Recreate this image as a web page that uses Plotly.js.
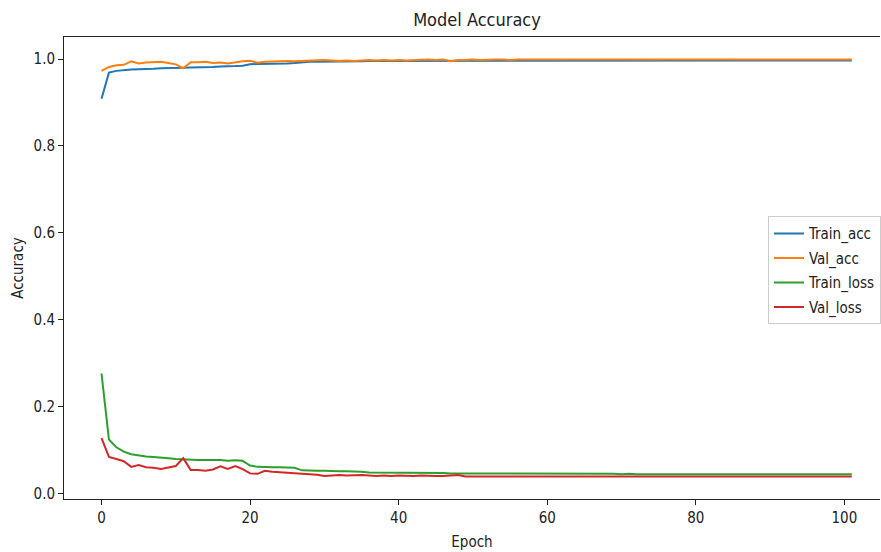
<!DOCTYPE html>
<html>
<head>
<meta charset="utf-8">
<script src="https://cdn.plot.ly/plotly-3.0.1.min.js"></script>
<style>
html, body { margin: 0; padding: 0; overflow: hidden; background: #fff; }
#chart { width: 881px; height: 552px; }
</style>
</head>
<body>
<div id="chart"></div>
<script>
const seriesNames = ["Train_acc", "Val_acc", "Train_loss", "Val_loss"];
const seriesColors = ["#1f77b4", "#ff7f0e", "#2ca02c", "#d62728"];

const trainAcc = [
  0.909, 0.969, 0.973, 0.975, 0.976, 0.977, 0.977, 0.978, 0.979, 0.979,
  0.980, 0.980, 0.981, 0.981, 0.982, 0.982, 0.983, 0.983, 0.984, 0.985,
  0.988, 0.989, 0.989, 0.990, 0.990, 0.990, 0.991, 0.993, 0.994, 0.994,
  0.994, 0.994, 0.994, 0.995, 0.995, 0.995, 0.996, 0.996, 0.996, 0.996,
  0.996, 0.996, 0.996, 0.996, 0.996, 0.996, 0.997, 0.997, 0.997, 0.997,
  0.997, 0.997, 0.997, 0.997, 0.997, 0.997, 0.997, 0.997, 0.997, 0.997,
  0.997, 0.997, 0.997, 0.997, 0.997, 0.997, 0.997, 0.997, 0.997, 0.997,
  0.997, 0.997, 0.997, 0.997, 0.997, 0.997, 0.997, 0.997, 0.997, 0.997,
  0.997, 0.997, 0.997, 0.997, 0.997, 0.997, 0.997, 0.997, 0.997, 0.997,
  0.997, 0.997, 0.997, 0.997, 0.997, 0.997, 0.997, 0.997, 0.997, 0.997,
  0.997, 0.997
];

const valAcc = [
  0.973, 0.982, 0.986, 0.987, 0.995, 0.990, 0.992, 0.993, 0.994, 0.991,
  0.988, 0.979, 0.993, 0.993, 0.994, 0.991, 0.992, 0.990, 0.993, 0.995,
  0.996, 0.992, 0.994, 0.995, 0.995, 0.996, 0.995, 0.996, 0.997, 0.997,
  0.998, 0.997, 0.996, 0.997, 0.996, 0.997, 0.998, 0.997, 0.998, 0.997,
  0.998, 0.997, 0.998, 0.998, 0.999, 0.998, 0.999, 0.995, 0.998, 0.998,
  0.999, 0.998, 0.999, 0.999, 0.999, 0.998, 0.999, 0.999, 0.999, 0.999,
  0.999, 0.999, 1.000, 0.999, 0.999, 0.999, 0.999, 0.999, 0.999, 1.000,
  0.999, 0.999, 0.999, 0.999, 1.000, 0.999, 0.999, 0.999, 0.999, 0.999,
  1.000, 0.999, 0.999, 0.999, 0.999, 0.999, 0.999, 1.000, 0.999, 0.999,
  0.999, 0.999, 0.999, 0.999, 0.999, 0.999, 0.999, 0.999, 0.999, 0.999,
  0.999, 0.999
];

const trainLoss = [
  0.276, 0.124, 0.106, 0.096, 0.090, 0.087, 0.085, 0.084, 0.083, 0.081,
  0.079, 0.078, 0.077, 0.077, 0.077, 0.077, 0.077, 0.075, 0.076, 0.075,
  0.064, 0.061, 0.060, 0.060, 0.060, 0.060, 0.059, 0.053, 0.052, 0.052,
  0.052, 0.051, 0.051, 0.051, 0.051, 0.050, 0.048, 0.048, 0.048, 0.048,
  0.048, 0.047, 0.047, 0.047, 0.047, 0.047, 0.047, 0.046, 0.046, 0.046,
  0.046, 0.046, 0.045, 0.045, 0.045, 0.045, 0.045, 0.045, 0.045, 0.045,
  0.045, 0.045, 0.045, 0.045, 0.045, 0.045, 0.045, 0.045, 0.045, 0.045,
  0.044, 0.045, 0.044, 0.044, 0.044, 0.044, 0.044, 0.044, 0.044, 0.044,
  0.044, 0.044, 0.044, 0.044, 0.044, 0.044, 0.044, 0.044, 0.044, 0.044,
  0.044, 0.044, 0.044, 0.044, 0.044, 0.044, 0.044, 0.044, 0.044, 0.044,
  0.044, 0.044
];

const valLoss = [
  0.127, 0.084, 0.079, 0.074, 0.061, 0.065, 0.060, 0.059, 0.056, 0.060,
  0.063, 0.081, 0.054, 0.054, 0.052, 0.055, 0.062, 0.056, 0.063, 0.056,
  0.046, 0.045, 0.052, 0.050, 0.049, 0.048, 0.046, 0.045, 0.044, 0.043,
  0.040, 0.041, 0.042, 0.041, 0.042, 0.042, 0.041, 0.040, 0.041, 0.040,
  0.041, 0.040, 0.040, 0.041, 0.040, 0.040, 0.040, 0.041, 0.042, 0.039,
  0.039, 0.040, 0.039, 0.039, 0.040, 0.039, 0.039, 0.039, 0.040, 0.039,
  0.039, 0.039, 0.039, 0.039, 0.039, 0.039, 0.039, 0.039, 0.039, 0.039,
  0.039, 0.039, 0.039, 0.039, 0.039, 0.039, 0.039, 0.039, 0.039, 0.039,
  0.039, 0.039, 0.039, 0.039, 0.039, 0.039, 0.039, 0.039, 0.039, 0.039,
  0.039, 0.039, 0.039, 0.039, 0.039, 0.039, 0.039, 0.039, 0.039, 0.039,
  0.039, 0.039
];

const epochs = trainAcc.map((_, i) => i);
const allSeries = [trainAcc, valAcc, trainLoss, valLoss];

const FONT = "'DejaVu Sans Condensed', 'DejaVu Sans', sans-serif";

const traces = allSeries.map((ys, k) => ({
  x: epochs,
  y: ys,
  type: "scatter",
  mode: "lines",
  name: seriesNames[k],
  legendgroup: "g" + k,
  line: { color: seriesColors[k], width: 2 }
}));

const layout = {
  width: 881,
  height: 552,
  margin: { l: 64, r: 0, t: 37, b: 53, pad: 0 },
  paper_bgcolor: "#ffffff",
  plot_bgcolor: "#ffffff",
  font: { family: FONT, size: 15, color: "#222" },
  title: {
    text: "Model Accuracy",
    font: { family: FONT, size: 18, color: "#222" },
    x: 0.5414, xref: "container", xanchor: "center",
    y: 0.9638, yref: "container", yanchor: "middle"
  },
  xaxis: {
    range: [-5.05, 104.8],
    tickmode: "linear", tick0: 0, dtick: 20,
    showgrid: false, zeroline: false,
    showline: true, mirror: true, linecolor: "#222", linewidth: 1,
    ticks: "outside", ticklen: 5, tickcolor: "#222", tickwidth: 1,
    tickfont: { family: FONT, size: 15, color: "#222" },
    automargin: false,
    title: { text: "Epoch", font: { family: FONT, size: 15, color: "#222" }, standoff: 10 }
  },
  yaxis: {
    range: [-0.013, 1.051],
    tickmode: "linear", tick0: 0, dtick: 0.2, tickformat: ".1f",
    showgrid: false, zeroline: false,
    showline: true, mirror: false, linecolor: "#222", linewidth: 1,
    ticks: "outside", ticklen: 5, tickcolor: "#222", tickwidth: 1,
    tickfont: { family: FONT, size: 15, color: "#222" },
    automargin: false,
    title: { text: "Accuracy", font: { family: FONT, size: 15, color: "#222" }, standoff: 6 }
  },
  showlegend: true,
  legend: {
    x: 0.863, xanchor: "left",
    y: 0.612, yanchor: "top",
    bgcolor: "rgba(255,255,255,0.85)",
    bordercolor: "#cccccc", borderwidth: 1,
    font: { family: FONT, size: 15, color: "#222" },
    itemwidth: 30,
    traceorder: "grouped",
    tracegroupgap: 2
  }
};

Plotly.newPlot("chart", traces, layout, { displayModeBar: false, staticPlot: true });
</script>
</body>
</html>
